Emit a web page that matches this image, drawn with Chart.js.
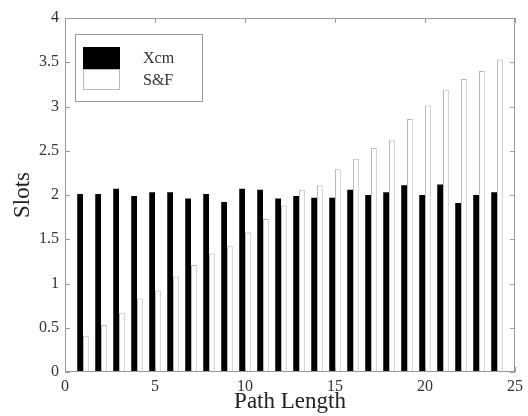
<!DOCTYPE html>
<html>
<head>
<meta charset="utf-8">
<script src="https://cdn.jsdelivr.net/npm/chart.js@4.4.1/dist/chart.umd.min.js"></script>
<style>
  html, body { margin: 0; padding: 0; background: #fff; }
  #wrap { width: 528px; height: 416px; }
</style>
</head>
<body>
<div id="wrap"><canvas id="c" width="528" height="416"></canvas></div>
<script>
const pathLengths = [1,2,3,4,5,6,7,8,9,10,11,12,13,14,15,16,17,18,19,20,21,22,23,24];
const xcmSlots = [2.01,2.01,2.07,1.99,2.03,2.03,1.96,2.01,1.92,2.07,2.06,1.96,1.99,1.97,1.97,2.06,2.00,2.03,2.11,2.00,2.12,1.91,2.00,2.03];
const sfSlots  = [0.41,0.53,0.67,0.83,0.92,1.08,1.21,1.34,1.42,1.58,1.73,1.88,2.06,2.11,2.29,2.41,2.53,2.62,2.86,3.01,3.19,3.31,3.40,3.53];
const seriesNames = ['Xcm', 'S&F'];
const xTickValues = [0,5,10,15,20,25];
const yTickValues = [0,0.5,1,1.5,2,2.5,3,3.5,4];

const SERIF = '"Liberation Serif", "DejaVu Serif", serif';
const AXIS_GRAY = '#9a9a9a';

const toPoints = (vals) => vals.map((v, i) => ({ x: pathLengths[i], y: v }));

const frameAndTicks = {
  id: 'frameAndTicks',
  afterDatasetsDraw(chart) {
    const { ctx, chartArea: a, scales } = chart;
    ctx.save();
    ctx.strokeStyle = AXIS_GRAY;
    ctx.lineWidth = 1;
    ctx.strokeRect(a.left + 0.5, a.top + 0.5, a.right - a.left - 1, a.bottom - a.top - 1);
    const L = 5;
    ctx.beginPath();
    xTickValues.forEach(v => {
      const px = Math.round(scales.x.getPixelForValue(v)) + 0.5;
      ctx.moveTo(px, a.bottom); ctx.lineTo(px, a.bottom - L);
      ctx.moveTo(px, a.top); ctx.lineTo(px, a.top + L);
    });
    yTickValues.forEach(v => {
      const py = Math.round(scales.y.getPixelForValue(v)) + 0.5;
      ctx.moveTo(a.left, py); ctx.lineTo(a.left + L, py);
      ctx.moveTo(a.right, py); ctx.lineTo(a.right - L, py);
    });
    ctx.stroke();

    // legend
    const bx = 75, by = 34, bw = 127, bh = 67;
    ctx.fillStyle = '#fff';
    ctx.fillRect(bx, by, bw, bh);
    ctx.strokeStyle = AXIS_GRAY;
    ctx.strokeRect(bx + 0.5, by + 0.5, bw, bh);
    const ds = chart.data.datasets;
    const rows = [{ y: 47, h: 22 }, { y: 69, h: 21 }];
    ds.forEach((d, i) => {
      const r = rows[i];
      ctx.fillStyle = d.backgroundColor;
      ctx.fillRect(83, r.y, 37, r.h);
      ctx.strokeStyle = i === 0 ? '#000' : '#bbb';
      ctx.strokeRect(83.5, r.y + 0.5, 36, r.h - 1);
      ctx.fillStyle = '#333';
      ctx.font = '16px ' + SERIF;
      ctx.textBaseline = 'middle';
      ctx.textAlign = 'left';
      ctx.fillText(d.label, 143, r.y + r.h / 2 + 1);
    });
    ctx.restore();
  }
};

new Chart(document.getElementById('c'), {
  type: 'bar',
  data: {
    datasets: [
      { label: seriesNames[0], data: toPoints(xcmSlots), backgroundColor: '#000', borderColor: '#000', borderWidth: 0 },
      { label: seriesNames[1], data: toPoints(sfSlots), backgroundColor: '#fff', borderColor: '#b8b8b8', borderWidth: 1 }
    ]
  },
  options: {
    responsive: false,
    animation: false,
    devicePixelRatio: 1,
    layout: { padding: { left: 0, right: 12, top: 18, bottom: 0 } },
    datasets: { bar: { categoryPercentage: 0.64, barPercentage: 1.0 } },
    plugins: { legend: { display: false }, tooltip: { enabled: false } },
    scales: {
      x: {
        type: 'linear', min: 0, max: 25, offset: false,
        grid: { display: false, offset: false, drawTicks: false },
        border: { display: false },
        afterBuildTicks: (s) => { s.ticks = xTickValues.map(v => ({ value: v })); },
        afterFit: (s) => { s.height = 44; },
        ticks: { color: '#333', font: { family: SERIF, size: 16 }, padding: 5, maxRotation: 0, autoSkip: false,
                 callback: (v) => String(v) },
        title: { display: true, text: 'Path Length', color: '#222', font: { family: SERIF, size: 23 }, padding: { top: 0, bottom: 0 } }
      },
      y: {
        type: 'linear', min: 0, max: 4,
        grid: { display: false, drawTicks: false },
        border: { display: false },
        afterBuildTicks: (s) => { s.ticks = yTickValues.map(v => ({ value: v })); },
        afterFit: (s) => { s.width = 65; },
        ticks: { color: '#333', font: { family: SERIF, size: 16 }, padding: 6, autoSkip: false,
                 callback: (v) => String(v) },
        title: { display: true, text: 'Slots', color: '#222', font: { family: SERIF, size: 23 }, padding: { top: 9, bottom: 0 } }
      }
    }
  },
  plugins: [frameAndTicks]
});
</script>
</body>
</html>
